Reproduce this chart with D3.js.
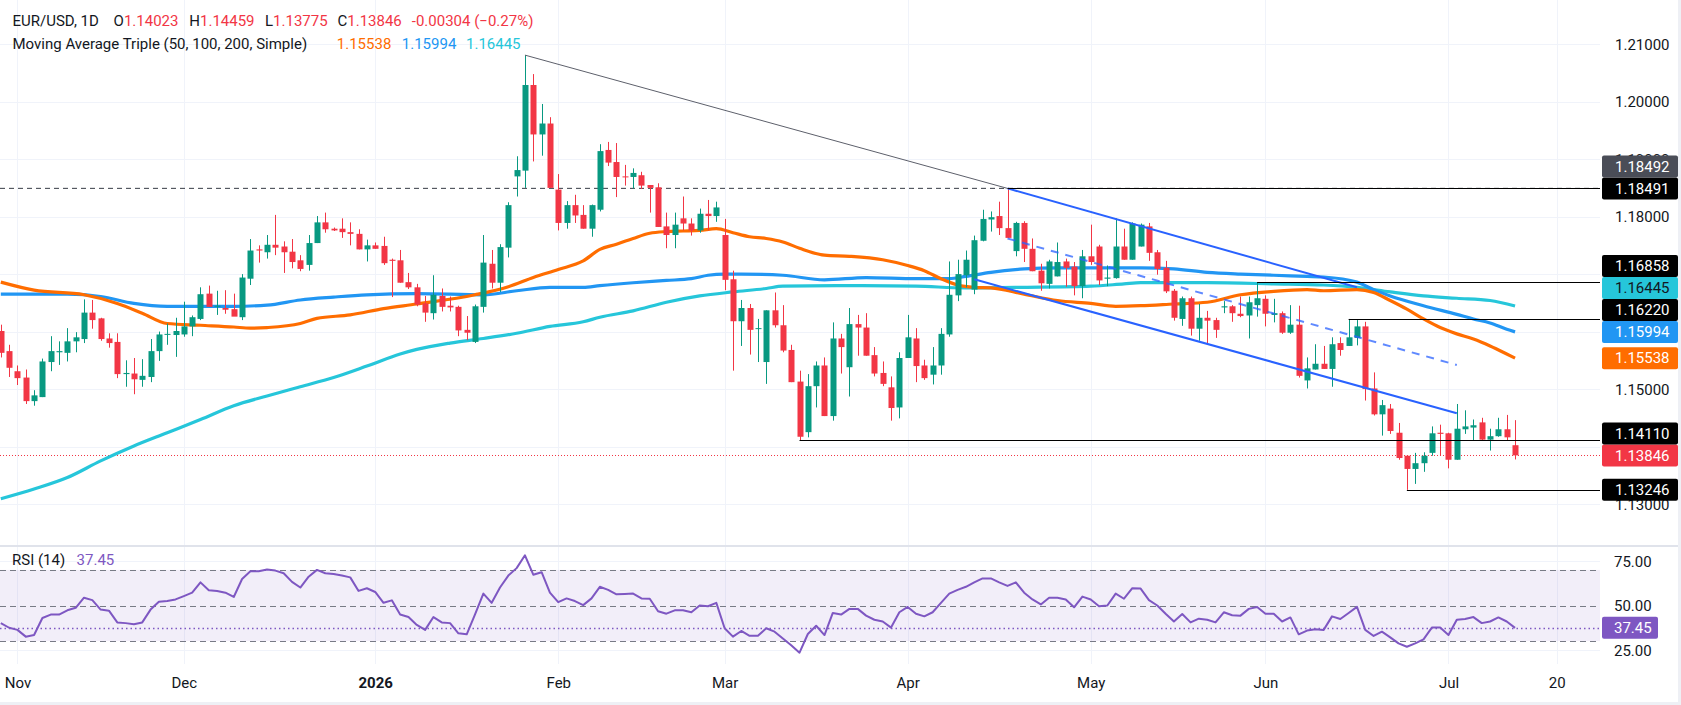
<!DOCTYPE html>
<html><head><meta charset="utf-8">
<script src="https://cdn.jsdelivr.net/npm/d3@7"></script>
<style>
body{margin:0;background:#fff;}
svg{display:block;}
text{font-family:Roboto,"Noto Sans",sans-serif;}
</style>
</head><body>
<svg id="chart" width="1681" height="705"></svg>
<script>
// ---------------- DATA ----------------
const symbolTitle = "EUR/USD, 1D";
const firstDate = "2025-10-30";
const lastAxisDate = "2026-07-29";

const opens = [
1.1601,1.1566,1.1531,1.1520,1.1479,1.1486,1.1547,1.1564,1.1563,1.1583,
1.1587,1.1633,1.1623,1.1588,1.1582,1.1526,1.1527,1.1516,1.1521,1.1566,
1.1595,1.1594,1.1595,1.1609,1.1622,1.1666,1.1644,1.1641,1.1639,1.1625,
1.1692,1.1743,1.1738,1.1751,1.1748,1.1739,1.1724,1.1716,1.1754,1.1790,
1.1779,1.1779,1.1773,1.1770,1.1743,1.1750,1.1749,1.1725,1.1724,1.1686,
1.1677,1.1649,1.1632,1.1662,1.1645,1.1643,1.1603,1.1582,1.1643,1.1718,
1.1685,1.1746,1.1870,1.1880,1.2029,1.1943,1.1962,1.1847,1.1789,1.1820,
1.1803,1.1779,1.1812,1.1916,1.1895,1.1870,1.1869,1.1872,1.1855,1.1851,
1.1783,1.1768,1.1797,1.1788,1.1776,1.1805,1.1801,1.1768,1.1691,1.1618,
1.1641,1.1605,1.1547,1.1637,1.1611,1.1568,1.1513,1.1425,1.1505,1.1541,
1.1453,1.1588,1.1538,1.1613,1.1607,1.1559,1.1528,1.1503,1.1468,1.1554,
1.1588,1.1541,1.1525,1.1541,1.1595,1.1663,1.1698,1.1673,1.1758,1.1795,
1.1801,1.1780,1.1740,1.1789,1.1744,1.1706,1.1683,1.1696,1.1722,1.1713,
1.1679,1.1731,1.1748,1.1692,1.1693,1.1748,1.1725,1.1748,1.1783,1.1738,
1.1711,1.1671,1.1622,1.1658,1.1605,1.1624,1.1620,1.1642,1.1644,1.1631,
1.1628,1.1646,1.1657,1.1629,1.1632,1.1598,1.1612,1.1515,1.1534,1.1544,
1.1535,1.1580,1.1575,1.1589,1.1609,1.1501,1.1456,1.1466,1.1424,1.1384,
1.1361,1.1371,1.1389,1.1424,1.1423,1.1377,1.1430,1.1433,1.1442,1.1412,
1.1418,1.1430,1.14023];

const highs = [
1.1612,1.1577,1.1541,1.1534,1.1498,1.1553,1.1592,1.1583,1.1606,1.1599,
1.1656,1.1655,1.1624,1.1597,1.1597,1.1550,1.1554,1.1552,1.1587,1.1600,
1.1614,1.1624,1.1652,1.1628,1.1677,1.1680,1.1671,1.1672,1.1666,1.1700,
1.1761,1.1750,1.1768,1.1803,1.1757,1.1761,1.1733,1.1768,1.1801,1.1807,
1.1781,1.1797,1.1790,1.1778,1.1760,1.1755,1.1765,1.1727,1.1742,1.1702,
1.1683,1.1662,1.1698,1.1675,1.1661,1.1645,1.1627,1.1647,1.1768,1.1742,
1.1752,1.1825,1.1905,1.2081,1.2048,1.1996,1.1973,1.1874,1.1827,1.1838,
1.1820,1.1821,1.1926,1.1930,1.1928,1.1890,1.1884,1.1878,1.1855,1.1858,
1.1807,1.1807,1.1835,1.1797,1.1814,1.1829,1.1826,1.1796,1.1706,1.1655,
1.1648,1.1622,1.1637,1.1668,1.1646,1.1577,1.1532,1.1526,1.1548,1.1555,
1.1616,1.1596,1.1641,1.1629,1.1632,1.1573,1.1548,1.1522,1.1564,1.1629,
1.1606,1.1551,1.1573,1.1606,1.1722,1.1725,1.1741,1.1767,1.1812,1.1809,
1.1826,1.18491,1.1791,1.1792,1.1762,1.1718,1.1725,1.1755,1.1727,1.1721,
1.1742,1.1786,1.1751,1.1715,1.1797,1.1779,1.1790,1.1788,1.1789,1.1742,
1.1723,1.1674,1.1661,1.1661,1.1648,1.1636,1.1624,1.1653,1.1646,1.1661,
1.1661,1.16858,1.1663,1.1657,1.1635,1.1646,1.1645,1.1555,1.1578,1.1575,
1.1590,1.1590,1.16220,1.1620,1.1617,1.1529,1.1481,1.1474,1.1441,1.1384,
1.1389,1.1390,1.1435,1.1438,1.1424,1.1474,1.1463,1.1447,1.1450,1.1431,
1.1450,1.1455,1.14459];

const lows = [
1.1555,1.1521,1.1507,1.1474,1.1471,1.1486,1.1531,1.1542,1.1548,1.1564,
1.1580,1.1605,1.1584,1.1572,1.1519,1.1504,1.1491,1.1504,1.1512,1.1549,
1.1577,1.1556,1.1591,1.1592,1.1620,1.1643,1.1629,1.1631,1.1630,1.1620,
1.1681,1.1720,1.1727,1.1733,1.1702,1.1710,1.1705,1.1706,1.1754,1.1772,
1.1775,1.1763,1.1750,1.1743,1.1722,1.1744,1.1716,1.1660,1.1685,1.1674,
1.1644,1.1617,1.1621,1.1635,1.1635,1.1592,1.1585,1.1580,1.1633,1.1675,
1.1669,1.1729,1.1835,1.1850,1.1896,1.1906,1.1850,1.1776,1.1779,1.1789,
1.1779,1.1765,1.1809,1.1888,1.1834,1.1854,1.1849,1.1848,1.1807,1.1782,
1.1745,1.1745,1.1776,1.1767,1.1772,1.1776,1.1791,1.1672,1.1532,1.1575,
1.1560,1.1547,1.1509,1.1607,1.1564,1.1512,1.1411,1.1416,1.1468,1.1453,
1.1445,1.1527,1.1487,1.1558,1.1558,1.1522,1.1505,1.1445,1.1449,1.1554,
1.1512,1.1516,1.1508,1.1525,1.1591,1.1653,1.1677,1.1665,1.1757,1.1774,
1.1768,1.1763,1.1731,1.1721,1.1705,1.1671,1.1675,1.1696,1.1678,1.1663,
1.1658,1.1716,1.1681,1.1679,1.1692,1.1725,1.1725,1.1748,1.1723,1.1699,
1.1667,1.1619,1.1610,1.1593,1.1584,1.1577,1.1589,1.1632,1.1617,1.1625,
1.1588,1.1626,1.1609,1.1616,1.1596,1.1596,1.1520,1.1501,1.1534,1.1535,
1.1504,1.1558,1.1575,1.1576,1.1480,1.1454,1.1419,1.1422,1.1377,1.13246,
1.1335,1.1356,1.1384,1.1384,1.1362,1.1377,1.1422,1.1410,1.1410,1.1393,
1.1417,1.1410,1.13775];

const closes = [
1.1563,1.1537,1.1519,1.1479,1.1489,1.1548,1.1566,1.1566,1.1583,1.1590,
1.1633,1.1620,1.1587,1.1580,1.1526,1.1528,1.1517,1.1523,1.1566,1.1595,
1.1596,1.1601,1.1609,1.1625,1.1665,1.1643,1.1645,1.1638,1.1626,1.1694,
1.1741,1.1741,1.1751,1.1746,1.1738,1.1721,1.1709,1.1754,1.1790,1.1778,
1.1776,1.1773,1.1770,1.1743,1.1750,1.1744,1.1719,1.1723,1.1685,1.1677,
1.1647,1.1633,1.1664,1.1643,1.1642,1.1602,1.1598,1.1644,1.1720,1.1685,
1.1747,1.1820,1.1881,1.2029,1.1943,1.1962,1.1850,1.1789,1.1820,1.1802,
1.1779,1.1820,1.1914,1.1894,1.1869,1.1869,1.1876,1.1854,1.1850,1.1782,
1.1768,1.1786,1.1788,1.1776,1.1805,1.1801,1.1816,1.1690,1.1618,1.1641,
1.1603,1.1606,1.1637,1.1611,1.1567,1.1512,1.1417,1.1505,1.1541,1.1453,
1.1588,1.1573,1.1613,1.1607,1.1558,1.1527,1.1509,1.1467,1.1554,1.1590,
1.1540,1.1519,1.1541,1.1596,1.1664,1.1700,1.1725,1.1759,1.1796,1.1799,
1.1780,1.1763,1.1789,1.1744,1.1705,1.1684,1.1722,1.1721,1.1711,1.1679,
1.1731,1.1721,1.1689,1.1694,1.1748,1.1725,1.1788,1.1786,1.1737,1.1709,
1.1670,1.1624,1.1658,1.1605,1.1624,1.1619,1.1603,1.1644,1.1632,1.1627,
1.1651,1.1658,1.1631,1.1632,1.1598,1.1612,1.1523,1.1536,1.1544,1.1535,
1.1578,1.1568,1.1590,1.1609,1.1500,1.1456,1.1472,1.1427,1.1380,1.1361,
1.1371,1.1384,1.1423,1.1422,1.1377,1.1431,1.1435,1.1437,1.1412,1.1418,
1.1430,1.1416,1.13846];

// Moving averages: [bar index, value]
const ma50Points = [[0,1.1686],[4,1.1672],[10,1.1664],[14,1.1649],[17,1.1632],[20,1.1614],[24,1.1611],[28,1.1608],[30,1.1606],[32,1.1607],[36,1.1614],[38,1.1623],[42,1.1629],[46,1.1640],[50,1.1648],[57,1.1664],[61,1.1678],[64,1.1694],[67,1.1708],[70,1.1723],[72,1.1743],[74,1.1752],[76,1.1762],[78,1.1771],[80,1.1774],[82,1.1775],[84,1.1776],[86,1.1779],[88,1.1772],[90,1.1765],[92,1.1762],[94,1.1756],[96,1.1745],[99,1.1733],[102,1.1731],[106,1.1725],[109,1.1715],[111,1.1706],[113,1.1692],[115,1.1681],[117,1.1677],[119,1.1676],[123,1.1665],[127,1.1654],[131,1.1649],[134,1.1644],[137,1.1645],[141,1.1648],[145,1.1651],[149,1.1664],[153,1.1670],[157,1.1673],[159,1.1671],[163,1.1673],[165,1.1668],[167,1.1654],[169,1.1639],[171,1.1622],[173,1.1607],[175,1.1596],[177,1.1587],[179,1.1575],[181,1.1561],[182,1.15538]];
const ma100Points = [[0,1.1665],[8,1.1665],[12,1.1661],[16,1.1649],[20,1.1644],[28,1.1644],[32,1.1646],[36,1.1655],[40,1.1660],[44,1.1664],[50,1.1666],[58,1.1664],[62,1.1671],[66,1.1677],[70,1.1677],[72,1.1680],[76,1.1685],[80,1.1689],[83,1.1692],[85,1.1698],[87,1.1700],[89,1.1700],[94,1.1698],[99,1.1690],[104,1.1694],[110,1.1692],[114,1.1692],[116,1.1696],[119,1.1703],[123,1.1709],[127,1.1711],[131,1.1711],[137,1.1711],[141,1.1709],[145,1.1703],[149,1.1700],[153,1.1698],[157,1.1696],[159,1.1695],[163,1.1686],[165,1.1673],[167,1.1662],[171,1.1645],[175,1.1630],[177,1.1622],[179,1.1615],[181,1.1604],[182,1.15994]];
const ma200Points = [[0,1.1309],[4,1.1326],[8,1.1346],[12,1.1375],[16,1.1401],[20,1.1424],[24,1.1447],[28,1.1471],[32,1.1488],[36,1.1504],[40,1.1520],[44,1.1540],[48,1.1561],[50,1.1569],[54,1.1580],[58,1.1588],[62,1.1597],[66,1.1609],[70,1.1617],[72,1.1625],[76,1.1636],[80,1.1651],[84,1.1662],[88,1.1669],[92,1.1675],[94,1.1679],[102,1.1680],[110,1.1679],[116,1.1676],[123,1.1677],[131,1.1679],[135,1.1683],[137,1.1685],[145,1.1685],[153,1.1683],[159,1.1681],[163,1.1677],[167,1.1669],[171,1.1662],[175,1.1658],[179,1.1654],[182,1.16445]];

const rsiValues = [
40.1,37.5,36.3,32.5,33.4,43.0,44.9,44.9,47.3,48.7,
54.4,53.0,47.7,47.1,40.5,40.1,39.5,40.5,47.7,52.1,
52.5,53.4,55.3,57.2,63.0,58.6,58.2,57.2,54.8,64.9,
69.2,69.2,70.2,69.6,68.1,63.3,60.1,66.2,70.0,68.1,
67.7,66.8,65.8,58.2,59.7,57.6,51.5,52.9,44.9,43.5,
39.1,36.3,43.5,40.5,40.1,34.4,33.8,45.0,56.7,51.5,
60.1,66.8,71.0,78.2,67.3,68.7,57.2,51.9,54.0,52.5,
50.2,54.0,60.5,58.8,56.3,56.5,56.7,54.0,53.8,46.8,
45.4,47.3,47.3,46.2,50.0,49.6,51.5,37.2,32.5,35.7,
33.0,33.0,37.2,35.3,31.5,27.7,23.5,34.0,38.6,33.4,
45.8,44.9,48.1,48.1,44.3,42.0,41.0,37.6,46.2,49.2,
45.4,43.9,46.2,51.5,56.7,58.8,60.5,63.0,65.2,65.2,
63.0,61.0,63.0,57.2,53.4,50.6,54.4,54.4,53.4,49.0,
55.0,53.4,49.6,50.0,56.7,53.8,59.7,59.5,53.0,50.0,
45.4,41.0,45.2,40.5,42.6,42.0,40.5,46.2,44.5,44.3,
48.1,49.2,45.4,45.4,41.0,43.3,33.8,35.9,36.7,36.3,
43.9,42.4,45.8,49.2,36.3,32.9,35.3,32.1,28.7,26.8,
28.7,31.0,37.6,37.6,33.4,42.0,42.4,43.5,40.1,41.0,
43.3,41.0,37.45];

const priceGridTicks = [1.13,1.14,1.15,1.16,1.17,1.18,1.19,1.20,1.21];
const priceTickLabels = [1.13,1.15,1.18,1.19,1.20,1.21];
const rsiTicks = [25,50,75];
const rsiLevels = [70,50,30];
const timeTickDates = ["2025-11-03","2025-12-01","2026-01-01","2026-02-02","2026-03-02","2026-04-01","2026-05-01","2026-06-01","2026-07-01","2026-07-20"];
const timeTickLabels = ["Nov","Dec","2026","Feb","Mar","Apr","May","Jun","Jul","20"];

// drawings: [bar index, price]
const grayTrendline = [[63,1.2081],[121,1.18491]];
const channelUpper = [[121,1.18491],[163,1.1677]];
const channelLower = [[117,1.1691],[175,1.1458]];
const channelMid = [[121,1.1762],[175,1.15418]];
const levelDashed = 1.18492;
const levelLines = [[121,1.18491],[151,1.16858],[162,1.16220],[96,1.14110],[169,1.13246]];

const headerOHLC = [["O","1.14023"],["H","1.14459"],["L","1.13775"],["C","1.13846"]];
const headerChange = "-0.00304 (\u22120.27%)";
const maTitle = "Moving Average Triple (50, 100, 200, Simple)";
const maLast = ["1.15538","1.15994","1.16445"];
const rsiTitle = "RSI (14)";
const rsiLast = "37.45";

// ---------------- STYLE / LAYOUT ----------------
const W=1681, H=705, PLOT_R=1600;
const PRICE_TOP=0, PRICE_BOT=545, RSI_TOP=547, RSI_BOT=664;
const UP="#089981", DOWN="#f23645";
const C50="#ff6d00", C100="#2196f3", C200="#26c6da", CRSI="#7e57c2";
const TXT="#131722";

const svg = d3.select("#chart");
svg.append("rect").attr("width",W).attr("height",H).attr("fill","#fff");

const parse = d3.timeParse("%Y-%m-%d");
const fmt = d3.timeFormat("%Y-%m-%d");
const allDays = d3.timeDay.range(parse(firstDate), parse(lastAxisDate)).filter(d=>d.getDay()%6!==0);
const keys = allDays.map(fmt);
const step = 8.32;
const x = d3.scalePoint().domain(keys).range([0.8, 0.8+step*(keys.length-1)]);
const xi = i => x(keys[i]);

const y = d3.scaleLinear().domain([1.13,1.21]).range([504.0,44.2]);
const yr = d3.scaleLinear().domain([25,75]).range([650,561]);

// clip paths
const defs = svg.append("defs");
defs.append("clipPath").attr("id","cp").append("rect").attr("x",0).attr("y",PRICE_TOP).attr("width",PLOT_R).attr("height",PRICE_BOT-PRICE_TOP);
defs.append("clipPath").attr("id","cr").append("rect").attr("x",0).attr("y",RSI_TOP).attr("width",PLOT_R).attr("height",RSI_BOT-RSI_TOP);

// grid
const grid = svg.append("g");
grid.selectAll("line.v").data(timeTickDates).join("line")
  .attr("x1",d=>Math.round(x(d))+0.5).attr("x2",d=>Math.round(x(d))+0.5)
  .attr("y1",0).attr("y2",RSI_BOT).attr("stroke","#f0f3fa").attr("stroke-width",1);
grid.selectAll("line.h").data(priceGridTicks).join("line")
  .attr("x1",0).attr("x2",PLOT_R).attr("y1",d=>Math.round(y(d))+0.5).attr("y2",d=>Math.round(y(d))+0.5)
  .attr("stroke","#f0f3fa");
grid.selectAll("line.hr").data([25,75]).join("line")
  .attr("x1",0).attr("x2",PLOT_R).attr("y1",d=>Math.round(yr(d))+0.5).attr("y2",d=>Math.round(yr(d))+0.5)
  .attr("stroke","#f0f3fa");

// pane separators and frame
svg.append("rect").attr("x",0).attr("y",PRICE_BOT).attr("width",W).attr("height",RSI_TOP-PRICE_BOT).attr("fill","#e0e3eb");
svg.append("rect").attr("x",0).attr("y",H-3).attr("width",W).attr("height",3).attr("fill","#eef0f5");
svg.append("rect").attr("x",W-3).attr("y",0).attr("width",3).attr("height",H).attr("fill","#eef0f5");

// ---- price pane ----
const pp = svg.append("g").attr("clip-path","url(#cp)");

pp.append("line").attr("x1",0).attr("x2",PLOT_R).attr("y1",y(levelDashed)).attr("y2",y(levelDashed))
  .attr("stroke","#363a45").attr("stroke-width",1).attr("stroke-dasharray","5,4");
const lastClose = closes[closes.length-1];
pp.append("line").attr("x1",0).attr("x2",PLOT_R).attr("y1",Math.round(y(lastClose))+0.5).attr("y2",Math.round(y(lastClose))+0.5)
  .attr("stroke",DOWN).attr("stroke-width",1).attr("stroke-dasharray","1,2");

// moving averages
const maLine = d3.line().x(d=>xi(d[0])).y(d=>y(d[1])).curve(d3.curveMonotoneX);
[[ma200Points,C200],[ma100Points,C100],[ma50Points,C50]].forEach(([pts,c])=>{
  pp.append("path").attr("d",maLine(pts)).attr("fill","none").attr("stroke",c).attr("stroke-width",3.2).attr("stroke-linejoin","round");
});

// candles
const candles = d3.range(closes.length).map(i=>({i,o:opens[i],h:highs[i],l:lows[i],c:closes[i]}));
const cg = pp.append("g");
cg.selectAll("line").data(candles).join("line")
  .attr("x1",d=>Math.round(xi(d.i))+0.5).attr("x2",d=>Math.round(xi(d.i))+0.5)
  .attr("y1",d=>y(d.h)).attr("y2",d=>y(d.l))
  .attr("stroke",d=>d.c>=d.o?UP:DOWN).attr("stroke-width",1);
cg.selectAll("rect").data(candles).join("rect")
  .attr("x",d=>Math.round(xi(d.i))-2.5).attr("width",6)
  .attr("y",d=>y(Math.max(d.o,d.c))).attr("height",d=>Math.max(1,Math.abs(y(d.o)-y(d.c))))
  .attr("fill",d=>d.c>=d.o?UP:DOWN);

// drawings
const seg = d3.line().x(d=>xi(d[0])).y(d=>y(d[1]));
pp.append("path").attr("d",seg(grayTrendline)).attr("fill","none").attr("stroke","#5d606b").attr("stroke-width",1);
pp.append("path").attr("d",seg(channelUpper)).attr("fill","none").attr("stroke","#2962ff").attr("stroke-width",2);
pp.append("path").attr("d",seg(channelLower)).attr("fill","none").attr("stroke","#2962ff").attr("stroke-width",2);
pp.append("path").attr("d",seg(channelMid)).attr("fill","none").attr("stroke","#2962ff").attr("stroke-opacity",0.75).attr("stroke-width",2).attr("stroke-dasharray","8,7");
pp.selectAll("line.lvl").data(levelLines).join("line")
  .attr("x1",d=>xi(d[0])).attr("x2",PLOT_R)
  .attr("y1",d=>Math.round(y(d[1]))+0.5).attr("y2",d=>Math.round(y(d[1]))+0.5)
  .attr("stroke","#000").attr("stroke-width",1);

// ---- RSI pane ----
const rp = svg.append("g").attr("clip-path","url(#cr)");
rp.append("rect").attr("x",0).attr("width",PLOT_R).attr("y",yr(70)).attr("height",yr(30)-yr(70))
  .attr("fill",CRSI).attr("fill-opacity",0.1);
rp.selectAll("line.lv").data(rsiLevels).join("line")
  .attr("x1",0).attr("x2",PLOT_R).attr("y1",d=>Math.round(yr(d))+0.5).attr("y2",d=>Math.round(yr(d))+0.5)
  .attr("stroke","#787b86").attr("stroke-width",1).attr("stroke-dasharray","6,4");
const lastRsi = rsiValues[rsiValues.length-1];
rp.append("line").attr("x1",0).attr("x2",PLOT_R)
  .attr("y1",Math.round(yr(lastRsi))+0.5).attr("y2",Math.round(yr(lastRsi))+0.5)
  .attr("stroke",CRSI).attr("stroke-width",1.5).attr("stroke-dasharray","1.5,3");
rp.append("path").attr("d",d3.line().x((d,i)=>xi(i)).y(d=>yr(d))(rsiValues))
  .attr("fill","none").attr("stroke",CRSI).attr("stroke-width",2).attr("stroke-linejoin","round");

// ---- axes ----
const yAxis = d3.axisRight(y).tickValues(priceTickLabels).tickFormat(d3.format(".5f")).tickSize(0).tickPadding(0);
const ya = svg.append("g").attr("transform",`translate(1615,0)`).call(yAxis);
ya.select(".domain").remove();
ya.selectAll("text").attr("fill",TXT).style("font-size","15px").attr("dy","0.35em");

const rAxis = d3.axisRight(yr).tickValues(rsiTicks).tickFormat(d3.format(".2f")).tickSize(0).tickPadding(0);
const ra = svg.append("g").attr("transform",`translate(1614,0)`).call(rAxis);
ra.select(".domain").remove();
ra.selectAll("text").attr("fill",TXT).style("font-size","15px").attr("dy","0.35em");

const xAxis = d3.axisBottom(x).tickValues(timeTickDates).tickFormat((d,i)=>timeTickLabels[i]).tickSize(0).tickPadding(0);
const xa = svg.append("g").attr("transform",`translate(0,683)`).call(xAxis);
xa.select(".domain").remove();
xa.selectAll("text").attr("fill",TXT).style("font-size","15px").attr("dy","0.35em")
  .attr("font-weight",(d,i)=>timeTickLabels[i]==="2026"?"bold":"normal");

// ---- price axis labels (stacked) ----
const labelDefs = [
  {v:1.18492, bg:"#4a4d57", fg:"#fff"},
  {v:1.18491, bg:"#000", fg:"#fff"},
  {v:1.16858, bg:"#000", fg:"#fff"},
  {v:1.16445, bg:C200, fg:TXT},
  {v:1.16220, bg:"#000", fg:"#fff"},
  {v:1.15994, bg:C100, fg:"#fff"},
  {v:1.15538, bg:C50, fg:"#fff"},
  {v:1.14110, bg:"#000", fg:"#fff"},
  {v:1.13846, bg:DOWN, fg:"#fff"},
  {v:1.13246, bg:"#000", fg:"#fff"}
];
const LH=22;
const sorted = labelDefs.map(d=>({...d, cy:y(d.v)})).sort((a,b)=>b.cy-a.cy);
let prev = Infinity;
sorted.forEach(d=>{ d.cy = Math.min(d.cy, prev-LH); prev=d.cy; });
const lg = svg.append("g");
const lab = lg.selectAll("g").data(sorted).join("g").attr("transform",d=>`translate(1602,${d.cy-LH/2})`);
lab.append("rect").attr("width",76).attr("height",LH).attr("rx",2).attr("fill",d=>d.bg);
lab.append("text").attr("x",13).attr("y",LH/2).attr("dy","0.35em").attr("fill",d=>d.fg).style("font-size","15px").text(d=>d.v.toFixed(5));

// RSI value label
const rl = svg.append("g").attr("transform",`translate(1602,${yr(lastRsi)-11})`);
rl.append("rect").attr("width",56).attr("height",22).attr("rx",2).attr("fill",CRSI);
rl.append("text").attr("x",12).attr("y",11).attr("dy","0.35em").attr("fill","#fff").style("font-size","15px").text(rsiLast);

// ---- legends ----
const lgd = svg.append("g").style("font-size","15px");
lgd.append("text").attr("x",12.5).attr("y",26).attr("fill",TXT).text(symbolTitle);
const ohlcX = [113.6,189.3,265,337.5];
headerOHLC.forEach((d,k)=>{
  const t = lgd.append("text").attr("x",ohlcX[k]).attr("y",26);
  t.append("tspan").attr("fill",TXT).text(d[0]);
  t.append("tspan").attr("fill",DOWN).text(d[1]);
});
lgd.append("text").attr("x",411.8).attr("y",26).attr("fill",DOWN).text(headerChange);
lgd.append("text").attr("x",12.5).attr("y",49).attr("fill",TXT).text(maTitle);
const maX=[336.8,401.8,466];
[C50,C100,C200].forEach((c,k)=>lgd.append("text").attr("x",maX[k]).attr("y",49).attr("fill",c).text(maLast[k]));
lgd.append("text").attr("x",12).attr("y",565).attr("fill",TXT).text(rsiTitle);
lgd.append("text").attr("x",76.6).attr("y",565).attr("fill",CRSI).text(rsiLast);
</script>
</body></html>
